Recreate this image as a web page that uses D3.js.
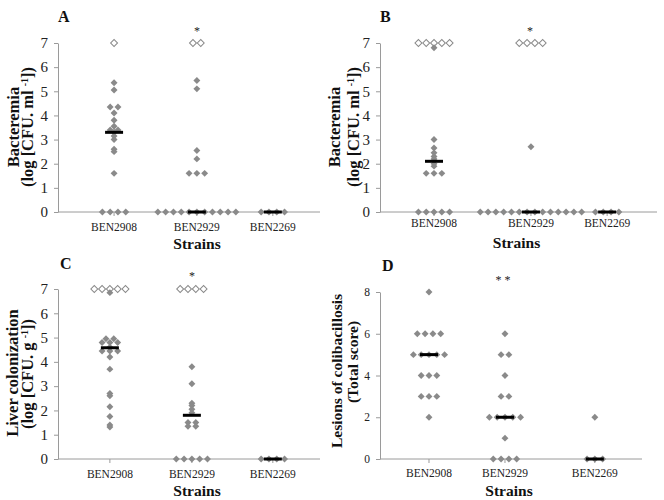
<!DOCTYPE html>
<html>
<head>
<meta charset="utf-8">
<script src="https://cdn.jsdelivr.net/npm/d3@7"></script>
<style>
body{margin:0;background:#fff;}
svg{display:block;font-family:"Liberation Serif","Times New Roman",serif;}
</style>
</head>
<body>
<div id="chart"></div>
<script>
// strains on the x axis of every panel
var strains=["BEN2908","BEN2929","BEN2269"];

// A: bacteremia (filled = measured, open = above counting limit)
var aFilled=[[5.35,5.05,4.35,4.35,4.1,3.8,3.55,3.4,3.4,3.3,3.15,3.0,2.6,2.5,1.6,0,0,0,0],
[5.45,5.1,2.55,2.2,1.6,1.6,1.6,0,0,0,0,0,0,0,0,0,0,0],
[0,0,0,0]];
var aOpen=[[7],[7,7],[]];
var aMedian=[3.3,0,0];
var aX=[0.214,0.53,0.82];

// B: bacteremia
var bFilled=[[6.8,3.0,2.65,2.45,2.3,2.2,2.0,1.9,1.6,1.6,1.6,0,0,0,0,0],
[2.7,0,0,0,0,0,0,0,0,0,0,0,0,0,0],
[0,0,0,0]];
var bOpen=[[7,7,7,7,7],[7,7,7,7],[]];
var bMedian=[2.1,0,0];
var bX=[0.195,0.545,0.82];

// C: liver colonization
var cFilled=[[6.85,4.95,4.95,4.8,4.8,4.8,4.6,4.45,4.45,4.45,4.2,3.7,2.7,2.6,2.15,1.75,1.4,1.32],
[3.8,3.1,2.3,2.2,2.05,1.9,1.5,1.5,1.35,1.35,0,0,0,0,0],
[0,0,0,0]];
var cOpen=[[7,7,7,7,7],[7,7,7,7],[]];
var cMedian=[4.58,1.8,0];
var cX=[0.198,0.511,0.82];

// D: lesion score
var dFilled=[[8,6,6,6,6,5,5,5,5,5,4,4,4,3,3,3,2],
[6,5,5,4,3,3,2,2,2,2,2,1,0,0,0,0],
[2,0,0,0]];
var dOpen=[[],[],[]];
var dMedian=[5,2,0];
var dX=[0.187,0.477,0.82];

var logTicks=[0,1,2,3,4,5,6,7];
var scoreTicks=[0,2,4,6,8];

var panels=[
{id:"A",filled:aFilled,open:aOpen,median:aMedian,xs:aX,ymax:7,ticks:logTicks,
 t1:"Bacteremia",t2:["(log [CFU. ml ","-1","])"],stars:["*"],
 left:58,right:320,top:43,bottom:212,tickFont:15,
 letter:[58,22],star:[197,35],t1x:18.5,t2x:33,ty:127,ty2:127,catY:231,strY:249},
{id:"B",filled:bFilled,open:bOpen,median:bMedian,xs:bX,ymax:7,ticks:logTicks,
 t1:"Bacteremia",t2:["(log [CFU. ml ","-1","])"],stars:["*"],
 left:380,right:657,top:43,bottom:212,tickFont:15,
 letter:[380,22],star:[530,35],t1x:340,t2x:359,ty:127,ty2:127,catY:227,strY:248},
{id:"C",filled:cFilled,open:cOpen,median:cMedian,xs:cX,ymax:7,ticks:logTicks,
 t1:"Liver colonization",t2:["(log [CFU. g ","-1","])"],stars:["*"],
 left:58,right:320,top:289,bottom:459,tickFont:15,
 letter:[60,269],star:[192,280],t1x:17.5,t2x:33,ty:373,ty2:374,catY:478,strY:496},
{id:"D",filled:dFilled,open:dOpen,median:dMedian,xs:dX,ymax:8,ticks:scoreTicks,
 t1:"Lesions of colibacillosis",t2:["(Total score)"],stars:["* *"],
 left:380,right:642,top:292,bottom:459,tickFont:11.5,
 letter:[382,271],star:[503,284],t1x:342,t2x:358,ty:371,ty2:362,catY:477,strY:496}
];

var grey="#8a8a8a", axisGrey="#9a9a9a", step=7.8;
var serif="Liberation Serif, Times New Roman, serif";

var svg=d3.select("#chart").append("svg")
.attr("width",664).attr("height",500);

// spread equal values side by side around the strain position
function spread(vals,kind){
var counts=d3.rollup(vals,function(v){return v.length;},function(d){return d;});
var seen=new Map();
return vals.map(function(v){
var n=counts.get(v),i=seen.get(v)||0;
seen.set(v,i+1);
return {v:v,off:(i-(n-1)/2)*step,kind:kind};
});
}

var diamond=d3.symbol().type(d3.symbolSquare).size(24);

panels.forEach(function(p){
var g=svg.append("g");
var x=d3.scaleLinear().domain([0,1]).range([p.left,p.right]);
var y=d3.scaleLinear().domain([0,p.ymax]).range([p.bottom,p.top]);

// x axis line + small ticks
g.append("line").attr("x1",p.left).attr("x2",p.right)
.attr("y1",y(0)).attr("y2",y(0)).attr("stroke",axisGrey);
g.selectAll(".xt").data(p.xs).enter().append("line")
.attr("x1",function(d){return x(d);}).attr("x2",function(d){return x(d);})
.attr("y1",y(0)).attr("y2",y(0)+4).attr("stroke",axisGrey);

var ya=g.append("g").attr("transform","translate("+p.left+",0)")
.call(d3.axisLeft(y).tickValues(p.ticks).tickFormat(d3.format("d"))
.tickSize(4).tickSizeOuter(0).tickPadding(6));
ya.attr("font-family",serif).attr("font-size",p.tickFont);
ya.select(".domain").attr("stroke",axisGrey);
ya.selectAll(".tick line").attr("stroke",axisGrey);
ya.selectAll("text").attr("fill","#222");

// strain labels
g.selectAll(".cat").data(strains).enter().append("text")
.attr("x",function(d,i){return x(p.xs[i]);}).attr("y",p.catY)
.attr("text-anchor","middle").attr("font-size",11.5).attr("fill","#222")
.text(function(d){return d;});
g.append("text").attr("x",(p.left+p.right)/2+(p.id=="B"||p.id=="D"?-2:8)).attr("y",p.strY)
.attr("text-anchor","middle").attr("font-weight","bold").attr("font-size",15.5)
.attr("fill","#111").text("Strains");

// y titles
g.append("text").attr("transform","translate("+p.t1x+","+p.ty+")rotate(-90)")
.attr("text-anchor","middle").attr("font-weight","bold")
.attr("font-size",p.id=="D"?15.5:16.5).attr("fill","#111").text(p.t1);
var t2=g.append("text").attr("transform","translate("+p.t2x+","+p.ty2+")rotate(-90)")
.attr("text-anchor","middle").attr("font-weight","bold")
.attr("font-size",p.id=="D"?15.5:16.5).attr("fill","#111");
t2.append("tspan").text(p.t2[0]);
if(p.t2.length>1){
t2.append("tspan").attr("baseline-shift","super").attr("font-size",10).text(p.t2[1]);
t2.append("tspan").text(p.t2[2]);
}

// panel letter and significance star
g.append("text").attr("x",p.letter[0]).attr("y",p.letter[1])
.attr("font-weight","bold").attr("font-size",16).attr("fill","#111").text(p.id);
g.append("text").attr("x",p.star[0]).attr("y",p.star[1]).attr("text-anchor","middle")
.attr("font-size",12).attr("fill","#222").attr("xml:space","preserve").text(p.stars[0]);

// dots
strains.forEach(function(s,i){
var cx=x(p.xs[i]);
var pts=spread(p.open[i],"open").concat(spread(p.filled[i],"filled"));
g.selectAll(".pt"+i).data(pts).enter().append("path")
.attr("d",diamond)
.attr("transform",function(d){return "translate("+(cx+d.off)+","+y(d.v)+")rotate(45)";})
.attr("fill",function(d){return d.kind=="open"?"#fff":grey;})
.attr("stroke",function(d){return d.kind=="open"?grey:"none";})
.attr("stroke-width",1);
g.append("line").attr("x1",cx-9).attr("x2",cx+9)
.attr("y1",y(p.median[i])).attr("y2",y(p.median[i]))
.attr("stroke","#000").attr("stroke-width",3);
});
});
</script>
</body>
</html>
